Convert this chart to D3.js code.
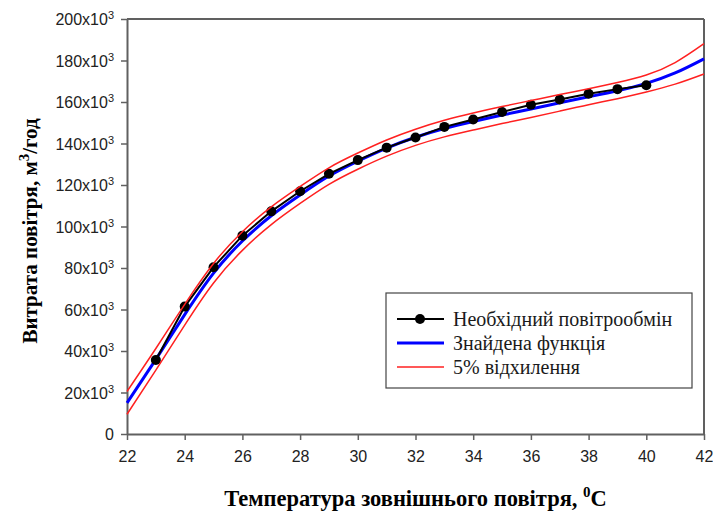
<!DOCTYPE html>
<html>
<head>
<meta charset="utf-8">
<script src="https://cdn.jsdelivr.net/npm/d3@7"></script>
<style>
  body { margin: 0; background: #fff; }
  svg { display: block; }
</style>
</head>
<body>
<div id="chart"></div>
<script>
// measured air exchange (thousand m3/h)
var temps = [23, 24, 25, 26, 27, 28, 29, 30, 31, 32, 33, 34, 35, 36, 37, 38, 39, 40];
var airflow = [35.7, 61.4, 80.4, 95.6, 107.3, 117.0, 125.4, 132.0, 138.0, 142.9, 148.0, 151.6, 155.2, 158.7, 161.2, 164.0, 166.2, 168.1];

// fitted function and 5% band
var fitTemps = [22, 23, 24, 25, 26, 27, 28, 29, 30, 31, 32, 33, 34, 35, 36, 37, 38, 39, 40, 41, 42];
var fitValues = [15.0, 36.0, 57.5, 77.5, 93.0, 105.2, 115.2, 124.3, 131.5, 137.8, 143.0, 147.2, 150.6, 153.7, 156.6, 159.6, 162.5, 165.4, 169.0, 174.0, 180.8];
var upperValues = [20.5, 41.2, 62.5, 82.2, 97.5, 109.5, 119.3, 128.3, 135.4, 141.7, 146.9, 151.2, 154.7, 157.8, 160.7, 163.6, 166.4, 169.4, 173.0, 179.0, 188.1];
var lowerValues = [9.5, 30.8, 52.5, 72.8, 88.5, 100.9, 111.1, 120.3, 127.6, 133.9, 139.1, 143.2, 146.5, 149.6, 152.5, 155.6, 158.7, 161.6, 164.8, 168.6, 173.5];

var xTicks = [22, 24, 26, 28, 30, 32, 34, 36, 38, 40, 42];
var yTicks = [0, 20, 40, 60, 80, 100, 120, 140, 160, 180, 200];

var legendLabels = ["Необхідний повітрообмін", "Знайдена функція", "5% відхилення"];

var svgWidth = 713;
var svgHeight = 514;
var margin = { top: 19, right: 9, bottom: 80, left: 127 };
var width = svgWidth - margin.left - margin.right;
var height = svgHeight - margin.top - margin.bottom;

var svg = d3.select("#chart").append("svg")
  .attr("width", svgWidth)
  .attr("height", svgHeight);

var chartGroup = svg.append("g")
  .attr("transform", `translate(${margin.left}, ${margin.top})`);

var x = d3.scaleLinear().domain([22, 42]).range([0, width]);
var y = d3.scaleLinear().domain([0, 200]).range([height, 0]);

var axisColor = "#606060";
var tickFont = "'Liberation Sans', Arial, sans-serif";
var serif = "'Liberation Serif', 'Times New Roman', serif";

// frame top + right
chartGroup.append("line")
  .attr("x1", 0).attr("x2", width).attr("y1", 0).attr("y2", 0)
  .attr("stroke", axisColor).attr("stroke-width", 2);
chartGroup.append("line")
  .attr("x1", width).attr("x2", width).attr("y1", 0).attr("y2", height)
  .attr("stroke", axisColor).attr("stroke-width", 2);

// axes
var bottomAxis = d3.axisBottom(x).tickValues(xTicks).tickSize(6).tickSizeOuter(0).tickPadding(6);
var leftAxis = d3.axisLeft(y).tickValues(yTicks).tickSize(6).tickSizeOuter(0).tickPadding(7);

var gx = chartGroup.append("g")
  .attr("transform", `translate(0, ${height})`)
  .call(bottomAxis);
var gy = chartGroup.append("g").call(leftAxis);

[gx, gy].forEach(function(g) {
  g.select(".domain").attr("stroke", axisColor).attr("stroke-width", 2);
  g.selectAll(".tick line").attr("stroke", axisColor).attr("stroke-width", 1.5);
  g.selectAll(".tick text")
    .attr("fill", "#222")
    .style("font-family", tickFont)
    .style("font-size", "16px");
});

gx.selectAll(".tick text").attr("dy", "1em");

// y labels as "NNx10^3"
gy.selectAll(".tick text").each(function(d) {
  var t = d3.select(this);
  t.text(null);
  if (d === 0) { t.text("0"); return; }
  t.append("tspan").text(d + "x10");
  t.append("tspan").attr("dy", "-6").style("font-size", "11px").text("3");
});
gy.selectAll(".tick text").attr("dy", "0.36em");

// lines
var fitLine = d3.line()
  .x((d, i) => x(fitTemps[i]))
  .y(d => y(d))
  .curve(d3.curveNatural);

chartGroup.append("path")
  .datum(fitValues)
  .attr("d", fitLine)
  .attr("fill", "none")
  .attr("stroke", "#0000ff")
  .attr("stroke-width", 3);

var dataLine = d3.line()
  .x((d, i) => x(temps[i]))
  .y(d => y(d));

chartGroup.append("path")
  .datum(airflow)
  .attr("d", dataLine)
  .attr("fill", "none")
  .attr("stroke", "#000")
  .attr("stroke-width", 2);

chartGroup.selectAll("circle.pt")
  .data(airflow)
  .enter()
  .append("circle")
  .attr("class", "pt")
  .attr("cx", (d, i) => x(temps[i]))
  .attr("cy", d => y(d))
  .attr("r", 5)
  .attr("fill", "#000");

[upperValues, lowerValues].forEach(function(vals) {
  chartGroup.append("path")
    .datum(vals)
    .attr("d", fitLine)
    .attr("fill", "none")
    .attr("stroke", "#ff2020")
    .attr("stroke-width", 1.5);
});

// legend
var legend = svg.append("g").attr("transform", "translate(386, 293)");
legend.append("rect")
  .attr("width", 306).attr("height", 95)
  .attr("fill", "#fff")
  .attr("stroke", "#444")
  .attr("stroke-width", 1.2);

var rows = [
  { color: "#000", w: 2, dot: true },
  { color: "#0000ff", w: 3, dot: false },
  { color: "#ff2020", w: 1.5, dot: false }
];
rows.forEach(function(r, i) {
  var ry = 26 + i * 24;
  legend.append("line")
    .attr("x1", 11).attr("x2", 58).attr("y1", ry).attr("y2", ry)
    .attr("stroke", r.color).attr("stroke-width", r.w);
  if (r.dot) {
    legend.append("circle").attr("cx", 34).attr("cy", ry).attr("r", 5).attr("fill", "#000");
  }
  legend.append("text")
    .attr("x", 67).attr("y", ry)
    .attr("dy", "0.35em")
    .style("font-family", serif)
    .style("font-size", "20px")
    .attr("fill", "#1a1a1a")
    .text(legendLabels[i]);
});

// axis titles
var yTitle = svg.append("text")
  .attr("transform", "translate(37, 231) rotate(-90)")
  .attr("text-anchor", "middle")
  .style("font-family", serif)
  .style("font-size", "21px")
  .style("font-weight", "bold")
  .attr("fill", "#000");
yTitle.append("tspan").text("Витрата повітря, м");
yTitle.append("tspan").attr("dy", "-8").style("font-size", "15px").text("3");
yTitle.append("tspan").attr("dy", "8").text("/год");

var xTitle = svg.append("text")
  .attr("x", margin.left + width / 2)
  .attr("y", 506)
  .attr("text-anchor", "middle")
  .style("font-family", serif)
  .style("font-size", "22.5px")
  .style("font-weight", "bold")
  .attr("fill", "#000");
xTitle.append("tspan").text("Температура зовнішнього повітря, ");
xTitle.append("tspan").attr("dy", "-9").style("font-size", "15px").text("0");
xTitle.append("tspan").attr("dy", "9").text("C");
</script>
</body>
</html>
